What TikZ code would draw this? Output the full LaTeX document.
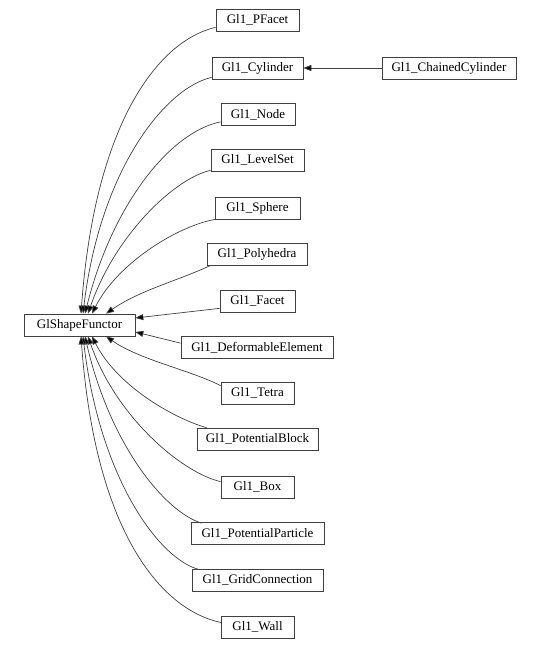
\documentclass[tikz,border=0pt]{standalone}
\usepackage{fontspec}
\setmainfont{Liberation Serif}
\usetikzlibrary{arrows.meta,calc}
\tikzset{
  cls/.style={draw=black!75, line width=0.7pt, fill=white, minimum height=22pt, inner xsep=4pt, inner ysep=2pt, font=\fontsize{13}{15}\selectfont, anchor=center},
  inh/.style={draw=black!75, line width=0.7pt, -{Triangle[length=8pt,width=6pt,fill=black]}},
}
\begin{document}
\begin{tikzpicture}[x=1pt,y=-1pt]
\useasboundingbox (0,0) rectangle (541,650);
% nodes
\node[cls, minimum width=111pt] (root) at (79.5,325) {GlShapeFunctor};
\node[cls, minimum width=83pt] (pf) at (257.5,20) {Gl1\_PFacet};
\node[cls, minimum width=91pt] (cy) at (257.5,68) {Gl1\_Cylinder};
\node[cls, minimum width=134pt] (cc) at (449,68) {Gl1\_ChainedCylinder};
\node[cls, minimum width=74pt] (nd) at (258,114.5) {Gl1\_Node};
\node[cls, minimum width=93pt] (ls) at (257.5,160) {Gl1\_LevelSet};
\node[cls, minimum width=85pt] (sp) at (257.5,208) {Gl1\_Sphere};
\node[cls, minimum width=100pt] (ph) at (257,254) {Gl1\_Polyhedra};
\node[cls, minimum width=75pt] (fa) at (257.5,301) {Gl1\_Facet};
\node[cls, minimum width=152pt] (de) at (257,347.5) {Gl1\_DeformableElement};
\node[cls, minimum width=73pt] (te) at (257.5,393) {Gl1\_Tetra};
\node[cls, minimum width=121pt] (pb) at (257.5,439) {Gl1\_PotentialBlock};
\node[cls, minimum width=73pt] (bx) at (257.5,487) {Gl1\_Box};
\node[cls, minimum width=133pt] (pp) at (257.5,533.5) {Gl1\_PotentialParticle};
\node[cls, minimum width=131pt] (gc) at (257.5,580) {Gl1\_GridConnection};
\node[cls, minimum width=73pt] (wa) at (257.5,627) {Gl1\_Wall};
% edges
\draw[inh] (cc.west) -- (cy.east);
\draw[inh] ($(pf.south west)+(0,-4)$) .. controls (160,40) and (95,120) .. ($(root.north)+(1.5,0)$);
\draw[inh] ($(cy.south west)+(0,-2)$) .. controls (165,88) and (100,170) .. ($(root.north)+(3.5,0)$);
\draw[inh] ($(nd.south west)+(0,-4)$) .. controls (170,132) and (112,205) .. ($(root.north)+(5.5,0)$);
\draw[inh] ($(ls.south west)+(0,-1)$) .. controls (175,178) and (115,235) .. ($(root.north)+(8.5,0)$);
\draw[inh] ($(sp.south west)+(1,0)$) .. controls (180,225) and (118,262) .. ($(root.north)+(12.5,0)$);
\draw[inh] ($(ph.south west)+(4,0)$) .. controls (180,280) and (140,290) .. ($(root.north)+(26.5,0)$);
\draw[inh] ($(fa.south west)+(0,-4)$) -- ($(root.east)+(0,-7)$);
\draw[inh] ($(de.north west)+(0,7)$) -- ($(root.east)+(0,7)$);
\draw[inh] ($(te.north west)+(0,4)$) .. controls (190,370) and (140,360) .. ($(root.south)+(26.5,0)$);
\draw[inh] ($(pb.north west)+(10,0)$) .. controls (178,420) and (118,388) .. ($(root.south)+(12.5,0)$);
\draw[inh] ($(bx.north west)+(0,6)$) .. controls (180,472) and (115,415) .. ($(root.south)+(8.5,0)$);
\draw[inh] ($(pp.north west)+(11,1)$) .. controls (165,512) and (110,445) .. ($(root.south)+(5.5,0)$);
\draw[inh] ($(gc.north west)+(8,1)$) .. controls (160,560) and (100,480) .. ($(root.south)+(3.5,0)$);
\draw[inh] ($(wa.north west)+(1,7)$) .. controls (160,610) and (95,530) .. ($(root.south)+(1.5,0)$);
\end{tikzpicture}
\end{document}
